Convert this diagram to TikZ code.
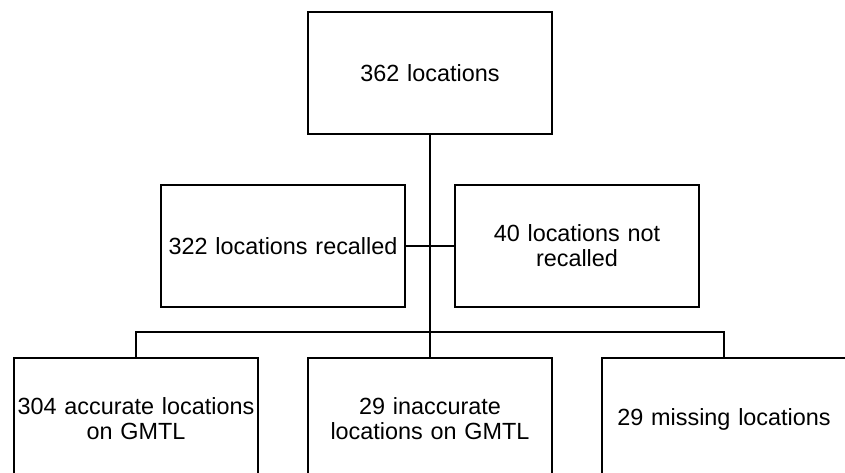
\documentclass[tikz,border=0pt]{standalone}
\usepackage{fontspec}
\setmainfont{Liberation Sans}
\usetikzlibrary{positioning}

\tikzset{
	countbox/.style={draw, line width=1.6pt, rectangle, inner sep=0pt,
		text width=244pt, minimum height=122pt, align=center,
		font=\fontsize{23.4}{25}\selectfont},
	link/.style={draw, line width=1.4pt}
}

\begin{document}
\begin{tikzpicture}[x=1pt, y=-1pt]
		\def\gap{294};
		
		\useasboundingbox (0,0) rectangle (845,473);
		\clip (0,0) rectangle (845,473);
		
		\node [countbox] (total) at (430,73) {362 locations};
		
		\node [countbox] (recalled) at ({430-\gap/2},246) {322 locations recalled};
		\node [countbox] (notrecalled) at ({430+\gap/2},246) {40 locations not\\recalled};
		
		\node [countbox] (inaccurate) at (430,419) {29 inaccurate\\locations on GMTL};
		\node [countbox] (accurate) at ({430-\gap},419) {304 accurate locations\\on GMTL};
		\node [countbox] (missing) at ({430+\gap},419) {29 missing locations};
		
		\coordinate (bus) at (430,332);
		
		\begin{scope}[link]
			\draw (total.south) -- (inaccurate.north);
			\draw (recalled.east) -- (notrecalled.west);
			\draw (accurate.north) |- (bus) -| (missing.north);
		\end{scope}
	\end{tikzpicture}
\end{document}
